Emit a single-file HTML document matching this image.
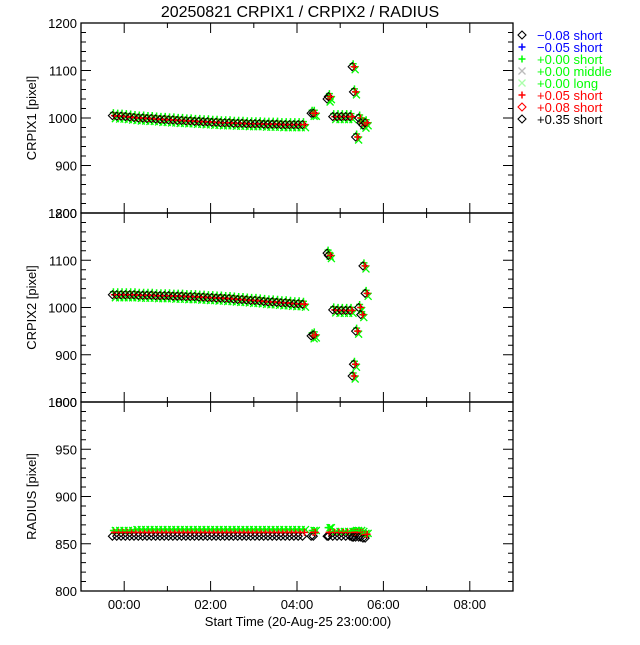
<!DOCTYPE html>
<html><head><meta charset="utf-8"><style>
html,body{margin:0;padding:0;background:#fff;}
svg text{font-family:"Liberation Sans",sans-serif;}
</style></head><body>
<svg id="chart" width="640" height="640" viewBox="0 0 640 640" xmlns="http://www.w3.org/2000/svg">
<text x="300" y="17" font-size="16" text-anchor="middle">20250821 CRPIX1 / CRPIX2 / RADIUS</text>
<text x="298" y="626" font-size="13" text-anchor="middle">Start Time (20-Aug-25 23:00:00)</text>
</svg>
<script>
const times = [-0.25,-0.15,-0.05,0.05,0.15,0.25,0.35,0.45,0.55,0.65,0.75,0.85,0.95,1.05,1.15,1.25,1.35,1.45,1.55,1.65,1.75,1.85,1.95,2.05,2.15,2.25,2.35,2.45,2.55,2.65,2.75,2.85,2.95,3.05,3.15,3.25,3.35,3.45,3.55,3.65,3.75,3.85,3.95,4.05,4.15,
  4.35,4.4,4.72,4.75,4.85,4.95,5.05,5.15,5.25,5.3,5.33,5.38,5.45,5.5,5.55,5.6];
const crpix1 = [1005,1004,1004,1003,1002,1001,1000,1000,999,999,998,997,997,996,996,995,995,994,994,993,993,992,992,991,991,990,990,990,989,989,989,988,988,988,988,987,987,987,987,986,986,986,986,986,986,
  1010,1010,1040,1045,1003,1003,1003,1003,1003,1108,1055,960,1000,990,985,990];
const crpix2 = [1027,1027,1027,1027,1027,1027,1026,1026,1026,1026,1025,1025,1025,1025,1024,1024,1024,1023,1023,1023,1022,1022,1021,1021,1020,1020,1019,1019,1018,1017,1017,1016,1015,1015,1014,1013,1012,1012,1011,1010,1010,1009,1008,1008,1007,
  940,942,1115,1110,995,994,994,994,994,855,880,950,1000,985,1088,1030];
const radiusGreen = [864,864,864,864,864,865,865,865,865,865,865,865,865,865,865,865,865,865,865,865,865,865,865,865,865,865,865,865,865,865,865,865,865,865,865,865,865,865,865,865,865,865,865,865,865,
  864,864,867,867,863,863,863,863,863,863,864,864,864,863,861,861];
const radiusRed = [862,862,862,862,862,862,862,862,862,862,862,862,862,862,862,862,862,862,862,862,862,862,862,862,862,862,862,862,862,862,862,862,862,862,862,862,862,862,862,862,862,862,862,862,862,
  862,862,862,862,862,862,862,862,862,862,862,862,862,862,860,860];
const radiusBlack = [858,858,858,858,858,858,858,858,858,858,858,858,858,858,858,858,858,858,858,858,858,858,858,858,858,858,858,858,858,858,858,858,858,858,858,858,858,858,858,858,858,858,858,858,858,
  858,858,858,858,858,858,858,858,858,857,857,857,857,857,856,856];
const xTickLabels = ["00:00","02:00","04:00","06:00","08:00"];
const xTickHours = [0,2,4,6,8];
const legendLabels = ["\u22120.08 short","\u22120.05 short","+0.00 short","+0.00 middle","+0.00 long","+0.05 short","+0.08 short","+0.35 short"];

const svg = document.getElementById('chart');
const NS = 'http://www.w3.org/2000/svg';
const X0 = 81, X1 = 513, TMIN = -1, TMAX = 9;
function xs(t){ return X0 + (t - TMIN) / (TMAX - TMIN) * (X1 - X0); }
function mk(tag, attrs){ const e = document.createElementNS(NS, tag); for (const k in attrs) e.setAttribute(k, attrs[k]); svg.appendChild(e); return e; }

function marker(kind, x, y, color){
  let e;
  if (kind === 'plus') e = mk('path', {d:`M${x-3.5},${y}h7M${x},${y-3.5}v7`, stroke:color, 'stroke-width':1.5, fill:'none'});
  else if (kind === 'x') e = mk('path', {d:`M${x-3.5},${y-3.5}l7,7M${x-3.5},${y+3.5}l7,-7`, stroke:color, 'stroke-width':1.3, fill:'none'});
  else e = mk('path', {d:`M${x},${y-4}l4,4l-4,4l-4,-4z`, stroke:color, 'stroke-width':1.1, fill:'none'});
  return e;
}

const panels = [
  {name:'crpix1', top:23, bot:213, ymin:800, ymax:1200, major:100, minor:20, label:'CRPIX1 [pixel]'},
  {name:'crpix2', top:213, bot:402, ymin:800, ymax:1200, major:100, minor:20, label:'CRPIX2 [pixel]'},
  {name:'radius', top:402, bot:591, ymin:800, ymax:1000, major:50, minor:10, label:'RADIUS [pixel]'}
];

panels.forEach((p, pi) => {
  const ys = v => p.bot - (v - p.ymin) / (p.ymax - p.ymin) * (p.bot - p.top);
  const frame = mk('rect', {x:X0, y:p.top, width:X1-X0, height:p.bot-p.top, fill:'none', stroke:'#000', 'stroke-width':1.3});
  
  
  for (let v = p.ymin; v <= p.ymax + 0.001; v += p.minor) {
    const isMaj = Math.abs((v - p.ymin) % p.major) < 0.001;
    const L = isMaj ? 10 : 5; const y = ys(v);
    const t = mk('path', {d:`M${X0},${y}h${L}M${X1},${y}h${-L}`, stroke:'#000', 'stroke-width':1});
    
    
    if (isMaj) {
      const lb = mk('text', {x:X0-4, y:y+5, 'font-size':13, 'text-anchor':'end'});
      lb.textContent = v;
      
      
    }
  }
  for (let h = -1; h <= 9; h++) {
    const x = xs(h); const L = (h % 2 === 0) ? 10 : 5;
    const t = mk('path', {d:`M${x},${p.bot}v${-L}M${x},${p.top}v${L}`, stroke:'#000', 'stroke-width':1});
    
    
  }
  const yl = mk('text', {x:0, y:0, 'font-size':13, 'text-anchor':'middle', transform:`translate(36,${(p.top+p.bot)/2}) rotate(-90)`});
  yl.textContent = p.label;
  
  

  let g, r, b;
  if (pi === 0) { g = crpix1; r = crpix1; b = crpix1; }
  else if (pi === 1) { g = crpix2; r = crpix2; b = crpix2; }
  else { g = radiusGreen; r = radiusRed; b = radiusBlack; }
  const spread = pi === 2 ? 0 : 3;
  times.forEach((t, i) => {
    const x = xs(t);
    const a = marker('plus', x, ys(g[i]) - spread, '#00ff00');
    
    
    const a2 = marker('x', x + 2, ys(g[i]) + spread, '#00ff00');
    
    
    const d = marker('diamond', x - 1, ys(b[i]), '#000');
    
    
    const c = marker('plus', x + 1, ys(r[i]), '#ff0000');
    
    
  });
});

xTickHours.forEach((h, i) => {
  const lb = mk('text', {x:xs(h), y:609, 'font-size':13, 'text-anchor':'middle'});
  lb.textContent = xTickLabels[i];
  
  
});

const legKinds = ['diamond','plus','plus','x','x','plus','diamond','diamond'];
const legSym = ['#000','#0000ff','#00ff00','#bbbbbb','#aaffaa','#ff0000','#ff0000','#000'];
const legText = ['#0000ff','#0000ff','#00ff00','#00ff00','#00ff00','#ff0000','#ff0000','#000'];
legendLabels.forEach((s, i) => {
  const y = 35 + i * 12;
  const m = marker(legKinds[i], 522, y, legSym[i]);
  
  
  const t = mk('text', {x:537, y:y+5, 'font-size':13, fill:legText[i]});
  t.textContent = s;
  
  
});
</script>
</body></html>
